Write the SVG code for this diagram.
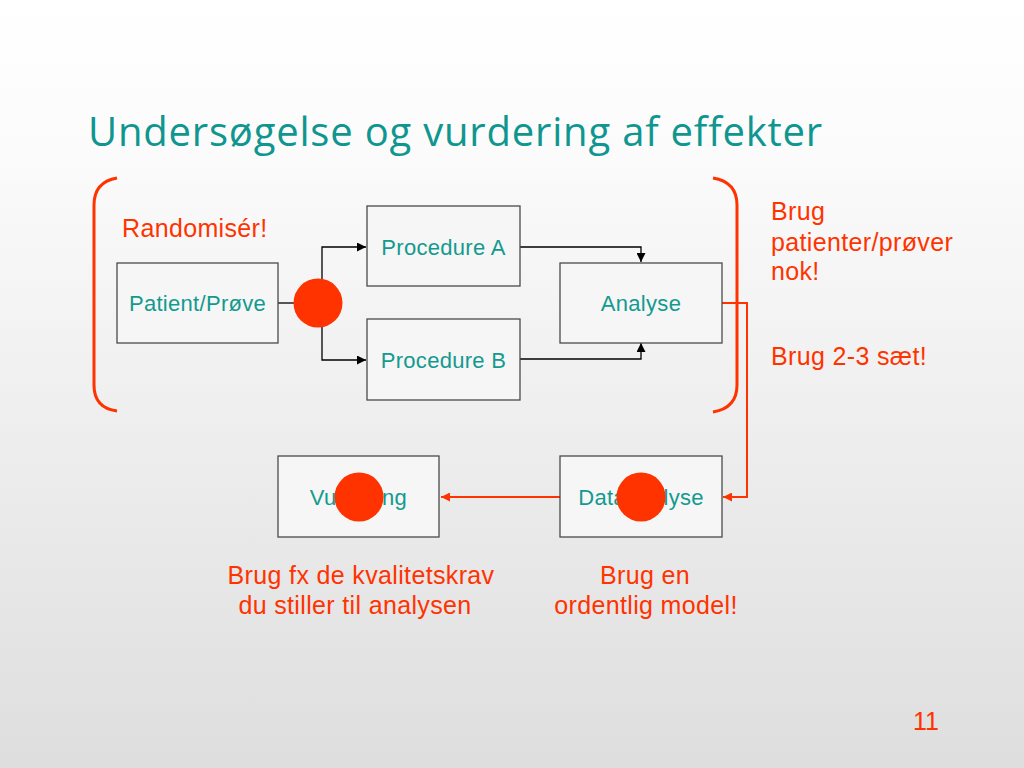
<svg xmlns="http://www.w3.org/2000/svg" width="1024" height="768" viewBox="0 0 1024 768">
<defs>
<linearGradient id="bg" x1="0" y1="0" x2="0" y2="1">
<stop offset="0" stop-color="#ffffff"/>
<stop offset="0.2" stop-color="#fbfbfb"/>
<stop offset="1" stop-color="#dedede"/>
</linearGradient>
<marker id="ab" viewBox="0 0 10 10" refX="10" refY="5" markerWidth="9" markerHeight="9" markerUnits="userSpaceOnUse" orient="auto">
<path d="M0,0 L10,5 L0,10 z" fill="#000"/>
</marker>
<marker id="ar" viewBox="0 0 10 10" refX="10" refY="5" markerWidth="9" markerHeight="9" markerUnits="userSpaceOnUse" orient="auto">
<path d="M0,0 L10,5 L0,10 z" fill="#ff3300"/>
</marker>
</defs>
<style>
.box{fill:#f6f6f6;stroke:#4a4a4a;stroke-width:1.3}
.lbl{font-family:"Liberation Sans",Arial,sans-serif;font-size:22px;letter-spacing:0.3px;fill:#139a90;text-anchor:middle}
.note{font-family:"Liberation Sans",Arial,sans-serif;font-size:25px;letter-spacing:0.35px;fill:#ff3300}
.dot{fill:#ff3300}
.blk{fill:none;stroke:#000;stroke-width:1.3}
.red{fill:none;stroke:#ff3300;stroke-width:2}
.brk{fill:none;stroke:#ff3300;stroke-width:3}
</style>
<rect width="1024" height="768" fill="url(#bg)"/>
<text x="88" y="146" font-family="'Open Sans',sans-serif" font-size="40" letter-spacing="0.8" fill="#0f9690">Undersøgelse og vurdering af effekter</text>

<path class="brk" d="M117,178 Q94,182 94,205 L94,385 Q94,408 117,411"/>
<path class="brk" d="M713,178 Q737,182 737,205 L737,385 Q737,408 713,412"/>

<g id="connectors">
<line class="blk" x1="278" y1="303" x2="296" y2="303"/>
<polyline class="blk" points="322,280 322,247 366,247" marker-end="url(#ab)"/>
<polyline class="blk" points="322,326 322,360 366,360" marker-end="url(#ab)"/>
<polyline class="blk" points="520,247 641,247 641,262" marker-end="url(#ab)"/>
<polyline class="blk" points="520,359 641,359 641,343" marker-end="url(#ab)"/>
<polyline class="red" points="722,303 747,303 747,497 723,497" marker-end="url(#ar)"/>
<line class="red" x1="560" y1="497" x2="441" y2="497" marker-end="url(#ar)"/>
</g>

<g id="patient">
<rect class="box" x="117" y="263" width="161" height="80"/>
<text class="lbl" x="197.5" y="311">Patient/Prøve</text>
</g>
<g id="procA">
<rect class="box" x="367" y="206" width="153" height="80"/>
<text class="lbl" x="443.5" y="255">Procedure A</text>
</g>
<g id="procB">
<rect class="box" x="367" y="319" width="153" height="81"/>
<text class="lbl" x="443.5" y="368">Procedure B</text>
</g>
<g id="analyse">
<rect class="box" x="560" y="263" width="162" height="80"/>
<text class="lbl" x="641" y="311">Analyse</text>
</g>
<g id="vurdering">
<rect class="box" x="278" y="456" width="161" height="81"/>
<text class="lbl" x="358.5" y="505">Vurdering</text>
<circle class="dot" cx="359" cy="497" r="24.5"/>
</g>
<g id="dataanalyse">
<rect class="box" x="560" y="456" width="162" height="81"/>
<text class="lbl" x="641" y="505">Dataanalyse</text>
<circle class="dot" cx="641" cy="497" r="24.5"/>
</g>
<g id="random">
<circle class="dot" cx="318" cy="303" r="24.5"/>
</g>

<text class="note" x="122" y="237">Randomisér!</text>
<text class="note" x="771" y="220">Brug</text>
<text class="note" x="771" y="251">patienter/prøver</text>
<text class="note" x="771" y="280">nok!</text>
<text class="note" x="771" y="365">Brug 2-3 sæt!</text>
<text class="note" x="361" y="584" text-anchor="middle">Brug fx de kvalitetskrav</text>
<text class="note" x="355" y="614" text-anchor="middle">du stiller til analysen</text>
<text class="note" x="645" y="584" text-anchor="middle">Brug en</text>
<text class="note" x="646" y="614" text-anchor="middle">ordentlig model!</text>
<text x="926" y="730" font-family="'Liberation Sans',Arial,sans-serif" font-size="25" fill="#ff3300" text-anchor="middle">11</text>
</svg>
